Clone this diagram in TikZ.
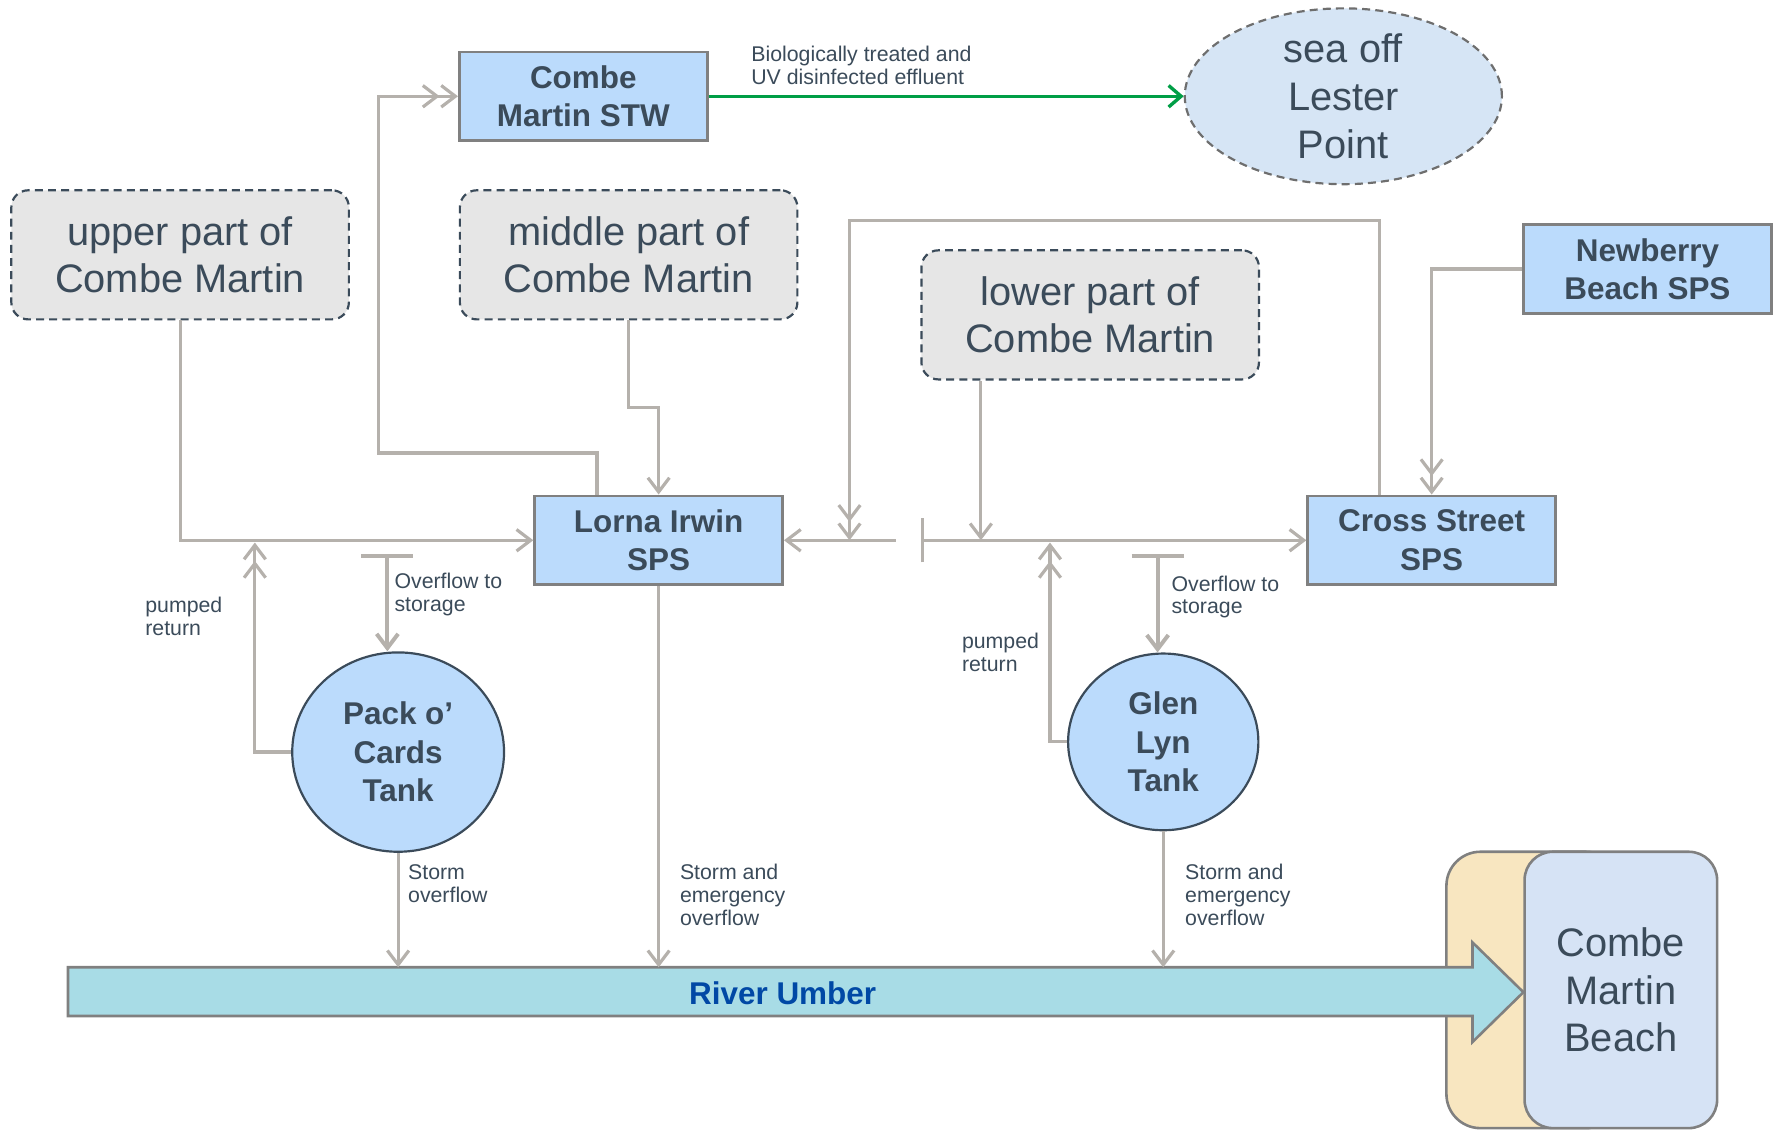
\documentclass[tikz,border=0pt]{standalone}
\usepackage{fontspec}
\setmainfont{Liberation Sans}
\usetikzlibrary{positioning,arrows.meta,shapes.geometric}
\definecolor{slatetext}{RGB}{59,75,90}
\definecolor{boxblue}{RGB}{187,219,252}
\definecolor{boxedge}{RGB}{128,128,128}
\definecolor{areagray}{RGB}{230,230,230}
\definecolor{pipegray}{RGB}{181,177,172}
\definecolor{effgreen}{RGB}{0,158,70}
\definecolor{seablue}{RGB}{214,229,245}
\definecolor{seaedge}{RGB}{110,110,110}
\definecolor{riveraqua}{RGB}{168,220,230}
\definecolor{riverink}{RGB}{0,72,165}
\definecolor{sandtan}{RGB}{248,230,192}
\definecolor{beachblue}{RGB}{214,227,245}

\newcommand\areafont{\fontsize{20}{23.9}\selectfont}
\newcommand\boxfont{\fontsize{15.8}{19.3}\selectfont\bfseries}
\newcommand\notefont{\fontsize{10.7}{11.4}\selectfont}

\tikzset{
  sps/.style={draw=boxedge,line width=1.3pt,fill=boxblue,text=slatetext,font=\boxfont,
    align=center,minimum width=4.38cm,minimum height=1.57cm,inner sep=0pt},
  area/.style={draw=slatetext,line width=1.1pt,dash pattern=on 4pt off 2.6pt,rounded corners=0.3cm,
    fill=areagray,text=slatetext,font=\areafont,align=center,minimum width=5.96cm,minimum height=2.28cm},
  tank/.style={ellipse,draw=slatetext,line width=1.1pt,fill=boxblue,text=slatetext,font=\boxfont,
    align=center,inner sep=0pt},
  note/.style={text=slatetext,font=\notefont,align=left,anchor=west,inner sep=0pt},
  pipe/.style={draw=pipegray,line width=1.6pt},
  flow/.style={pipe,-{Straight Barb[length=2.5mm,width=3.8mm]}},
  flowtwo/.style={pipe,-{Straight Barb[length=2.5mm,width=3.8mm]Straight Barb[length=2.5mm,width=3.8mm]}},
  teeflow/.style={pipe,{Bar[width=#1]}-{Straight Barb[length=2.5mm,width=3.8mm]}},
}

\begin{document}
\begin{tikzpicture}[x=2cm,y=-2cm]
  \useasboundingbox (0,0) rectangle (15.68,9.98);

  % beach and river
  \path[draw=boxedge,line width=1.3pt,fill=sandtan,rounded corners=0.6cm] (12.77,7.52) rectangle (14.3,9.96);
  \node[draw=boxedge,line width=1.3pt,fill=beachblue,rounded corners=0.5cm,minimum width=3.4cm,
        minimum height=4.88cm,text=slatetext,font=\areafont,align=center] (beach) at (14.31,8.74)
        {Combe\\Martin\\Beach};
  \coordinate (rtop) at (0.60,8.54);
  \path[draw=boxedge,line width=1.3pt,fill=riveraqua] (rtop) -- (13.00,8.54) -- (13.00,8.32)
    -- (13.45,8.76) -- (13.00,9.20) -- (13.00,8.97) -- (0.60,8.97) -- cycle;
  \node[font=\boxfont,text=riverink] (river) at (6.91,8.77) {River Umber};

  \node[sps] (stw) at (5.15,0.85) {Combe\\Martin STW};
  \node[ellipse,draw=seaedge,line width=1.1pt,dash pattern=on 4pt off 2.6pt,fill=seablue,
        minimum width=5.6cm,minimum height=3.04cm,inner sep=0pt,text=slatetext,font=\areafont,
        align=center] (sea) at (11.86,0.85) {sea off\\Lester\\Point};
  \node[area] (upper) at (1.59,2.25) {upper part of\\Combe Martin};
  \node[area] (middle) at (5.55,2.25) {middle part of\\Combe Martin};
  \node[area] (lower) at (9.625,2.78) {lower part of\\Combe Martin};
  \node[sps] (newb) at (14.545,2.375) {Newberry\\Beach SPS};
  \node[sps] (lorna) at (5.815,4.77) {Lorna Irwin\\SPS};
  \node[sps] (cross) at (12.64,4.77) {Cross Street\\SPS};
  \node[tank,minimum width=3.74cm,minimum height=3.52cm] (pack) at (3.515,6.64) {Pack o’\\Cards\\Tank};
  \node[tank,minimum width=3.36cm,minimum height=3.12cm] (glen) at (10.27,6.55) {Glen\\Lyn\\Tank};

  \coordinate (stwbend) at (3.34,4.00);
  \coordinate (loopbend) at (7.50,1.95);
  \coordinate (jr) at (7.50,4.77);
  \coordinate (gapl) at (7.91,4.77);
  \coordinate (gapr) at (8.13,4.77);
  \coordinate (lowin) at (8.66,4.77);
  \coordinate (pkret) at (2.25,4.79);
  \coordinate (pkovf) at (3.42,4.89);
  \coordinate (glret) at (9.27,4.79);
  \coordinate (glovf) at (10.22,4.89);

  % effluent to sea
  \draw[draw=effgreen,line width=1.7pt,-{Straight Barb[length=2.2mm,width=3.8mm]}] (stw.east) -- (sea.west);
  \node[note] (efflbl) at (6.63,0.58) {Biologically treated and\\UV disinfected effluent};

  % sewers
  \draw[flow] (upper.south) |- (lorna.west);
  \draw[flow] (middle.south) -- ++(0,0.77) -| (lorna.north);
  \draw[flowtwo] ([xshift=-1.09cm]lorna.north) |- (stwbend) |- (stw.west);
  \draw[flowtwo] ([xshift=-0.92cm]cross.north) |- (loopbend) -- (jr);
  \draw[flow] (gapl) -- (lorna.east);
  \draw[teeflow=7.8mm] (gapr) -- (cross.west);
  \draw[flow] (lowin |- lower.south) -- (lowin);
  \draw[flowtwo] (newb.west) -| (cross.north);

  % Pack o' Cards tank
  \draw[flowtwo] (pack.west) -| (pkret);
  \draw[teeflow=9.2mm,line width=2pt] (pkovf) -- (pkovf |- pack.north);
  \draw[flow] (pack.south) -- (pack.south |- rtop);
  \draw[flow] (lorna.south) -- (lorna.south |- rtop);
  \node[note] (pklbl) at (1.28,5.44) {pumped\\return};
  \node[note] (pkovflbl) at (3.48,5.25) {Overflow to\\storage};
  \node[note] (pkstlbl) at (3.60,7.80) {Storm\\overflow};
  \node[note] (lostlbl) at (6.00,7.90) {Storm and\\emergency\\overflow};

  % Glen Lyn tank
  \draw[flowtwo] (glen.west) -| (glret);
  \draw[teeflow=9.2mm,line width=2pt] (glovf) -- (glovf |- glen.north);
  \draw[flow] (glen.south) -- (glen.south |- rtop);
  \node[note] (gllbl) at (8.49,5.76) {pumped\\return};
  \node[note] (glovflbl) at (10.34,5.27) {Overflow to\\storage};
  \node[note] (glstlbl) at (10.46,7.90) {Storm and\\emergency\\overflow};
\end{tikzpicture}
\end{document}
